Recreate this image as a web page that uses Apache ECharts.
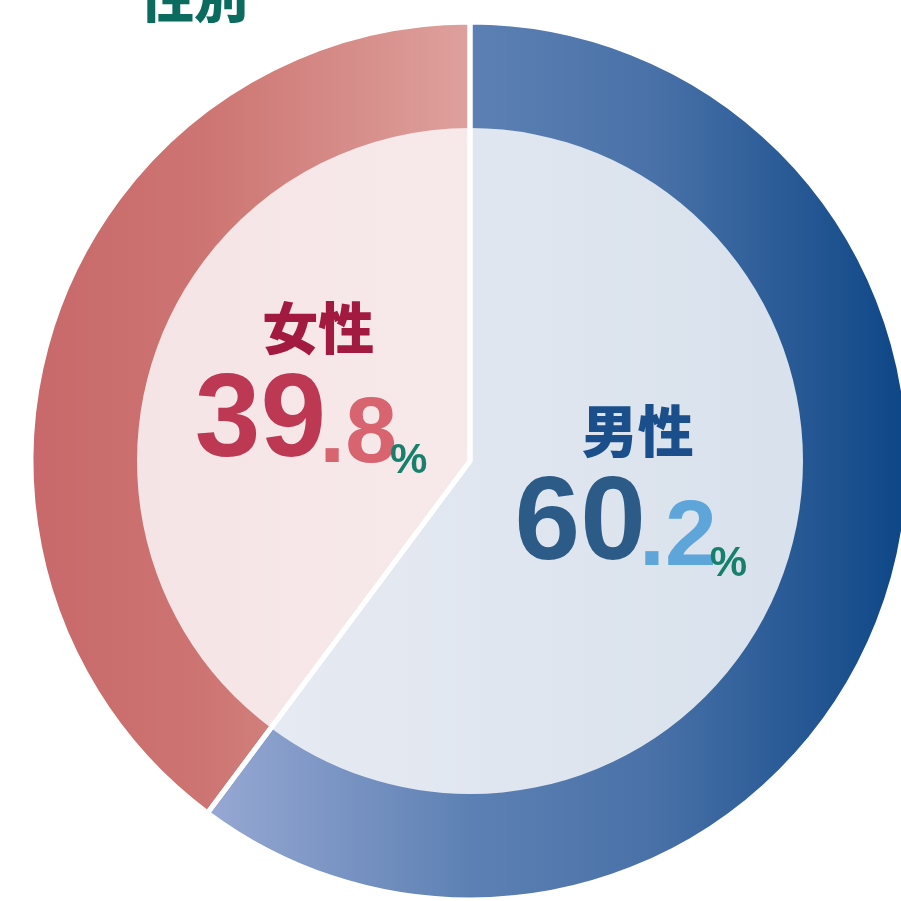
<!DOCTYPE html>
<html>
<head>
<meta charset="utf-8">
<script src="https://cdn.jsdelivr.net/npm/echarts@6/dist/echarts.min.js"></script>
<style>
  html, body { margin: 0; padding: 0; background: #fff; }
  #chart { width: 901px; height: 901px; }
</style>
</head>
<body>
<div id="chart"></div>
<script>
// 性別の構成比（%）
var genders = ['男性', '女性'];
var shares = [60.2, 39.8];
var title = '性別';

// 外側リング・内側円・文字の色
var ringStops = [
  [[0, '#97a8d3'], [0.38, '#5c80b3'], [0.63, '#4a72a8'], [1, '#0d4686']],
  [[0, '#c8686a'], [0.4, '#cd7572'], [1, '#dea19d']]
];
var fillStops = [
  [[0, '#e6eaf2'], [1, '#d8e1ec']],
  [[0, '#f5e4e5'], [1, '#f7e9ea']]
];
var nameColors = ['#1b4f8c', '#a31a40'];
var bigColors = ['#2c5b88', '#bd3853'];
var smallColors = ['#5ea6da', '#d7646f'];
// ラベル位置の微調整 [上, 右, 下, 左]
var labelPads = [[0, 0, 46, 0], [0, 0, 38, 4]];

function grad(stops) {
  return new echarts.graphic.LinearGradient(0, 0, 1, 0,
    stops.map(function (s) { return { offset: s[0], color: s[1] }; }));
}

var chart = echarts.init(document.getElementById('chart'));

var center = [470, 461];

var ringData = genders.map(function (g, i) {
  return { name: g, value: shares[i], itemStyle: { color: grad(ringStops[i]) } };
});
var fillData = genders.map(function (g, i) {
  var parts = shares[i].toFixed(1).split('.');
  return {
    name: g,
    value: shares[i],
    itemStyle: { color: grad(fillStops[i]) },
    label: {
      padding: labelPads[i],
      formatter: '{n' + i + '|' + g + '}\n{b' + i + '|' + parts[0] + '}{s' + i + '|.' + parts[1] + '}{p|%}'
    }
  };
});
var lineData = genders.map(function (g, i) {
  return { name: g, value: shares[i] };
});

var rich = { p: { fontFamily: 'Liberation Sans', fontWeight: 'bold', fontSize: 42, color: '#16806c', verticalAlign: 'bottom', lineHeight: 40 } };
genders.forEach(function (g, i) {
  rich['n' + i] = { fontFamily: 'Noto Sans CJK JP', fontWeight: 900, fontSize: 56, color: nameColors[i], lineHeight: 66, padding: [0, 0, 0, 14] };
  rich['b' + i] = { fontFamily: 'Liberation Sans', fontWeight: 'bold', fontSize: 118, color: bigColors[i], verticalAlign: 'bottom', lineHeight: 122 };
  rich['s' + i] = { fontFamily: 'Liberation Sans', fontWeight: 'bold', fontSize: 93, color: smallColors[i], verticalAlign: 'bottom', lineHeight: 122, width: 64, align: 'left' };
});

var option = {
  animation: false,
  backgroundColor: '#fff',
  graphic: [{
    type: 'text',
    left: 140,
    top: -30,
    style: {
      text: title,
      font: '900 54px "Noto Sans CJK JP"',
      fill: '#0b6b5e'
    }
  }],
  series: [
    { // 外側リング
      type: 'pie',
      center: center,
      radius: [328, 438],
      startAngle: 90,
      clockwise: true,
      silent: true,
      z: 1,
      label: { show: false },
      labelLine: { show: false },
      data: ringData
    },
    { // 内側円
      type: 'pie',
      center: center,
      radius: [0, 333],
      startAngle: 90,
      clockwise: true,
      silent: true,
      z: 2,
      label: {
        show: true,
        position: 'inside',
        rich: rich
      },
      labelLine: { show: false },
      data: fillData
    },
    { // 区切り線
      type: 'pie',
      center: center,
      radius: [0, 439],
      startAngle: 90,
      clockwise: true,
      silent: true,
      z: 3,
      itemStyle: { color: 'rgba(0,0,0,0)', borderColor: '#fff', borderWidth: 5 },
      label: { show: false },
      labelLine: { show: false },
      data: lineData
    }
  ]
};
chart.setOption(option);
</script>
</body>
</html>
